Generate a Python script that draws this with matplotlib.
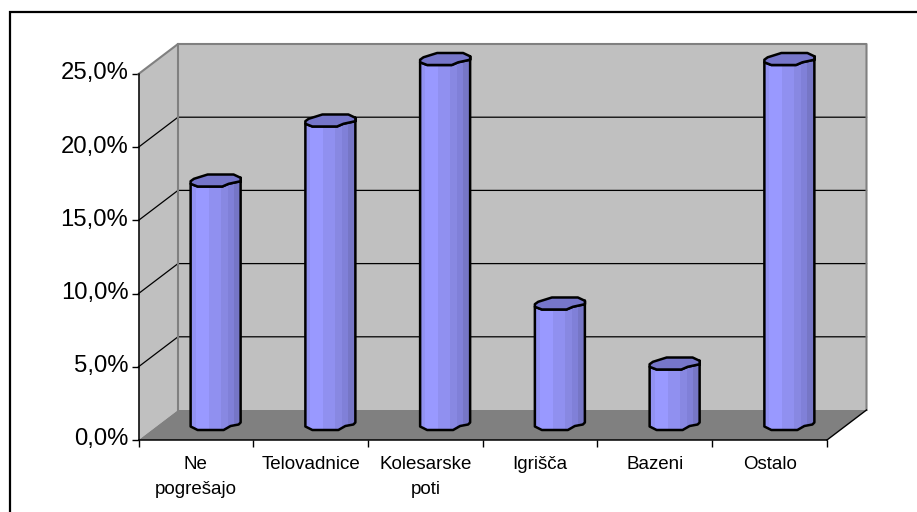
import matplotlib
matplotlib.use("Agg")
import matplotlib.pyplot as plt
from matplotlib.lines import Line2D
from matplotlib.patches import Polygon, Rectangle
from matplotlib.ticker import FuncFormatter
from matplotlib.transforms import ScaledTranslation

plt.rcParams['font.family'] = ['Liberation Sans', 'DejaVu Sans']

categories = ["Ne\npogrešajo", "Telovadnice", "Kolesarske\npoti", "Igrišča", "Bazeni", "Ostalo"]
values = [16.7, 20.8, 25.0, 8.3, 4.2, 25.0]
y_ticks = [0, 5, 10, 15, 20, 25]

W, H = 917, 512
L, R, B, T = 138.5, 827, 440, 74
fig = plt.figure(figsize=(W / 100, H / 100), dpi=100, facecolor='white')
ax = fig.add_axes([L / W, 1 - B / H, (R - L) / W, (B - T) / H])
ax.set_xlim(0, len(categories))
ax.set_ylim(0, 25)
ax.patch.set_visible(False)

# frame: only its top and left sides fall inside the picture
fig.add_artist(Line2D([10 / W, 10 / W, 1], [0, 1 - 12 / H, 1 - 12 / H], transform=fig.transFigure,
                      color='black', lw=1.6, solid_joinstyle='miter'))

px = (R - L) / len(categories)
py = (B - T) / 25.0
def dx(p): return p / px
def dy(p): return p / py
DX, DY = dx(39.5), dy(30)
n = len(categories)
ymax = 25

# walls and floor
GRAY = '#C0C0C0'; DARK = '#808080'
ax.add_patch(Polygon([(DX, DY), (n + DX, DY), (n + DX, ymax + DY), (DX, ymax + DY)], fc=GRAY, ec='none', clip_on=False, zorder=1))
ax.add_patch(Polygon([(0, 0), (DX, DY), (DX, ymax + DY), (0, ymax)], fc=GRAY, ec='none', clip_on=False, zorder=1))
ax.add_patch(Polygon([(0, 0), (n, 0), (n + DX, DY), (DX, DY)], fc=DARK, ec='none', clip_on=False, zorder=1))
for t in y_ticks[1:-1]:
    ax.plot([0, DX, n + DX], [t, t + DY, t + DY], color='black', lw=0.9, clip_on=False, zorder=1.5)
ax.plot([0, DX, n + DX, n + DX], [ymax, ymax + DY, ymax + DY, DY], color=DARK, lw=1.5, clip_on=False, zorder=1.6)
ax.plot([DX, DX], [DY, ymax + DY], color=DARK, lw=1.5, clip_on=False, zorder=1.6)
ax.plot([n, n + DX], [0, DY], color='black', lw=1.0, clip_on=False, zorder=1.6)

# faceted cylinders (shapes in pixels round each end's centre)
top_shape = [(-25, -0.7), (-21.7, 1.7), (-8, 6), (18, 6), (25, 2.7), (25, -0.7),
             (13, -3.3), (6.7, -6), (-18, -6), (-25, -3.3)]
front_top = [(25, 2.7), (25, -0.7), (13, -3.3), (6.7, -6), (-18, -6), (-25, -3.3)]
bottom = [(-25, -1.5), (-18, -5), (8, -5), (15, -1), (23, 0.5), (25, 2.5)]
strips = [(-25, -20, '#9292F2'), (-20, -7, '#9999FF'), (-7, 5, '#9090F0'),
          (5, 12, '#8888E2'), (12, 18, '#8080D8'), (18, 25, '#7676C6')]
for i, v in enumerate(values):
    cx = i + 0.5 + DX / 2
    cy0 = DY / 2
    cy1 = v + DY / 2
    def P(c, yc): return [(cx + dx(a), yc + dy(b)) for a, b in c]
    outline = P(bottom, cy0) + P(front_top, cy1)
    body = Polygon(outline, fc='#9999FF', ec='none', clip_on=False, zorder=3)
    ax.add_patch(body)
    for a, b, col in strips:
        s = Rectangle((cx + dx(a), cy0 - dy(8)), dx(b - a), cy1 - cy0 + dy(12), fc=col, ec='none', zorder=3.1)
        ax.add_patch(s)
        s.set_clip_box(None)
        s.set_clip_path(body)
    ax.add_patch(Polygon(outline, fc='none', ec='black', lw=1.8, clip_on=False, zorder=3.2, joinstyle='round'))
    ax.add_patch(Polygon(P(top_shape, cy1), fc='#7676CA', ec='black', lw=1.8, clip_on=False, zorder=3.3, joinstyle='round'))

# axes
for s in ('top', 'right'):
    ax.spines[s].set_visible(False)
for s in ('left', 'bottom'):
    ax.spines[s].set_linewidth(1.1)
ax.set_yticks(y_ticks)
ax.yaxis.set_major_formatter(FuncFormatter(lambda v, _: f"{v:.1f}%".replace('.', ',')))
ax.tick_params(axis='y', labelsize=17.2, length=4.8, width=1.0, pad=2.5)
shift = ScaledTranslation(0, 3 / 100, fig.dpi_scale_trans)
for lab in ax.get_yticklabels():
    lab.set_transform(lab.get_transform() + shift)
ax.set_xticks(range(n + 1))
ax.set_xticklabels([])
ax.tick_params(axis='x', which='major', length=4.8, width=1.0)
ax.set_xticks([i + 0.5 for i in range(n)], minor=True)
ax.set_xticklabels(categories, minor=True, fontsize=13.5, linespacing=1.6, ha='center')
ax.tick_params(axis='x', which='minor', length=0, pad=11.8)

fig.savefig('out.png', dpi=100)
